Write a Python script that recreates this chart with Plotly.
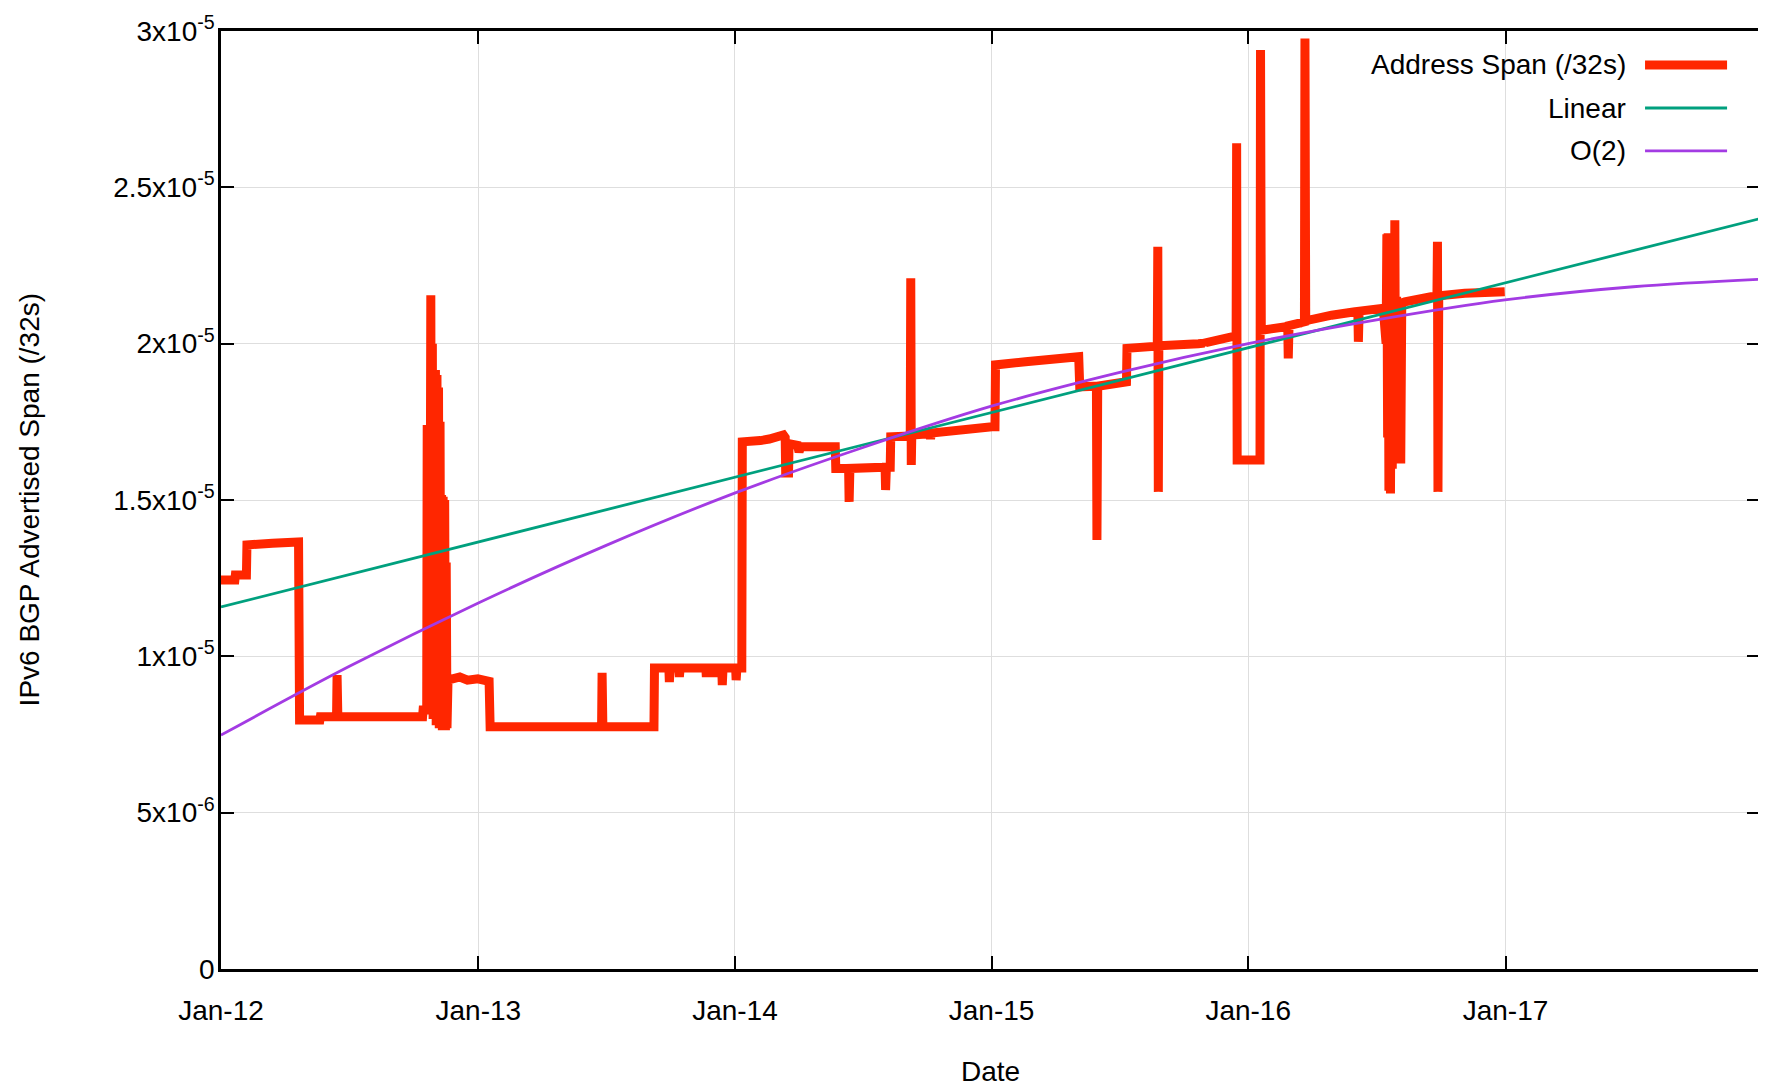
import datetime as dt
import plotly.graph_objects as go

# ---------------- data ----------------
# Dates as decimal years, values in units of 1e-6 (/32s)
span_years = [
    2012.000, 2012.054, 2012.056, 2012.099, 2012.101, 2012.200, 2012.302, 2012.306,
    2012.385, 2012.387, 2012.450, 2012.452, 2012.455, 2012.785, 2012.787, 2012.801,
    2012.803, 2012.806, 2012.810, 2012.813, 2012.817, 2012.820, 2012.823, 2012.826,
    2012.829, 2012.832, 2012.835, 2012.838, 2012.841, 2012.844, 2012.847, 2012.850,
    2012.853, 2012.856, 2012.859, 2012.862, 2012.865, 2012.868, 2012.871, 2012.874,
    2012.877, 2012.880, 2012.884, 2012.930, 2012.960, 2013.000, 2013.044, 2013.048,
    2013.482, 2013.484, 2013.487, 2013.686, 2013.688, 2013.744, 2013.746, 2013.749,
    2013.783, 2013.785, 2013.788, 2013.888, 2013.890, 2013.893, 2013.919, 2013.921,
    2013.924, 2013.950, 2013.952, 2013.955, 2014.004, 2014.006, 2014.009, 2014.028,
    2014.030, 2014.100, 2014.135, 2014.190, 2014.197, 2014.199, 2014.210, 2014.212,
    2014.245, 2014.251, 2014.257, 2014.392, 2014.394, 2014.444, 2014.446, 2014.449,
    2014.586, 2014.588, 2014.591, 2014.606, 2014.608, 2014.684, 2014.686, 2014.688,
    2014.690, 2014.761, 2014.763, 2014.766, 2015.002, 2015.014, 2015.016, 2015.133,
    2015.340, 2015.344, 2015.409, 2015.411, 2015.414, 2015.526, 2015.528, 2015.646,
    2015.648, 2015.650, 2015.652, 2015.806, 2015.830, 2015.832, 2015.835, 2015.936,
    2015.953, 2015.955, 2015.957, 2016.046, 2016.048, 2016.051, 2016.154, 2016.156,
    2016.159, 2016.195, 2016.219, 2016.221, 2016.224, 2016.234, 2016.325, 2016.416,
    2016.427, 2016.429, 2016.432, 2016.526, 2016.537, 2016.540, 2016.543, 2016.545,
    2016.548, 2016.551, 2016.554, 2016.558, 2016.561, 2016.565, 2016.568, 2016.571,
    2016.574, 2016.578, 2016.581, 2016.585, 2016.588, 2016.591, 2016.594, 2016.598,
    2016.610, 2016.712, 2016.735, 2016.737, 2016.739, 2016.742, 2016.843, 2016.999,
]
span_e6 = [
    12.44, 12.44, 12.60, 12.60, 13.56, 13.62, 13.66, 7.96,
    7.96, 8.07, 8.07, 9.40, 8.07, 8.07, 8.28, 8.28,
    17.40, 8.20, 17.00, 8.30, 21.55, 8.40, 20.00, 8.00,
    17.50, 8.00, 19.16, 7.80, 19.00, 7.80, 18.60, 7.70,
    17.50, 7.70, 15.16, 7.64, 15.10, 7.64, 15.00, 7.64,
    13.00, 7.70, 9.24, 9.34, 9.24, 9.28, 9.20, 7.75,
    7.75, 9.47, 7.75, 7.75, 9.63, 9.63, 9.18, 9.63,
    9.63, 9.34, 9.63, 9.63, 9.34, 9.63, 9.63, 9.34,
    9.63, 9.63, 9.08, 9.63, 9.63, 9.24, 9.63, 9.63,
    16.86, 16.90, 16.95, 17.08, 17.00, 15.86, 15.86, 16.80,
    16.75, 16.54, 16.70, 16.70, 16.01, 16.01, 14.94, 16.01,
    16.05, 15.32, 16.05, 16.05, 17.02, 17.05, 22.09, 16.12,
    17.08, 17.12, 16.95, 17.14, 17.34, 17.34, 19.32, 19.42,
    19.58, 18.62, 18.64, 13.72, 18.64, 18.78, 19.85, 19.92,
    23.10, 15.26, 19.93, 20.00, 20.02, 19.95, 20.03, 20.22,
    20.27, 26.41, 16.28, 16.28, 29.39, 20.43, 20.55, 19.53,
    20.58, 20.65, 20.70, 29.76, 20.72, 20.75, 20.91, 21.02,
    21.03, 20.06, 21.04, 21.13, 20.00, 23.50, 17.00, 23.53,
    15.30, 21.00, 15.21, 22.00, 16.00, 23.00, 17.50, 23.95,
    16.50, 21.50, 17.00, 21.30, 16.50, 21.20, 16.17, 21.30,
    21.34, 21.50, 21.52, 23.26, 15.26, 21.53, 21.61, 21.66,
]

linear_years = [2012.000, 2017.993]
linear_e6 = [11.58, 24.00]

quad_years = [2012.0, 2012.5, 2013.0, 2013.5, 2014.0, 2014.5, 2015.0,
              2015.5, 2016.0, 2016.5, 2017.0, 2017.5, 2017.993]
quad_e6 = [7.48, 9.68, 11.70, 13.55, 15.22, 16.68, 18.00,
           19.08, 20.00, 20.76, 21.40, 21.82, 22.06]

x_tick_dates = ["2012-01-01", "2013-01-01", "2014-01-01", "2015-01-01", "2016-01-01", "2017-01-01"]
x_tick_labels = ["Jan-12", "Jan-13", "Jan-14", "Jan-15", "Jan-16", "Jan-17"]
y_tick_vals = [0, 5e-6, 1e-5, 1.5e-5, 2e-5, 2.5e-5, 3e-5]
y_tick_labels = ["0", "5x10<sup>-6</sup>", "1x10<sup>-5</sup>", "1.5x10<sup>-5</sup>",
                 "2x10<sup>-5</sup>", "2.5x10<sup>-5</sup>", "3x10<sup>-5</sup>"]

series_names = ["Address Span (/32s)", "Linear", "O(2)"]
series_colors = ["#ff2600", "#00a07e", "#a33be3"]
series_widths = [9, 2.8, 2.8]


def to_date(y):
    return dt.datetime(2012, 1, 1) + dt.timedelta(days=(y - 2012.0) * 365.25)


def dates(ys):
    return [to_date(y) for y in ys]


def scale(vs):
    return [v * 1e-6 for v in vs]


FONT = "Liberation Sans, Arial, Helvetica, sans-serif"
FS = 28

fig = go.Figure()
for xs, ys, i in [(span_years, span_e6, 0), (linear_years, linear_e6, 1), (quad_years, quad_e6, 2)]:
    fig.add_trace(go.Scatter(
        x=dates(xs), y=scale(ys), mode="lines", name=series_names[i],
        line=dict(color=series_colors[i], width=series_widths[i],
                  shape="spline" if i == 2 else "linear", simplify=False),
        showlegend=False, hoverinfo="skip",
    ))

axis_common = dict(
    showline=True, linecolor="black", linewidth=2.5, mirror="allticks",
    ticks="inside", ticklen=13, tickwidth=2, tickcolor="black",
    showgrid=True, gridcolor="#dedede", gridwidth=1, zeroline=False,
    automargin=False,
    tickfont=dict(family=FONT, size=FS, color="black"),
)

fig.update_xaxes(
    type="date", range=[to_date(2012.0), to_date(2017.993)],
    tickmode="array", tickvals=x_tick_dates, ticktext=x_tick_labels,
    ticklabelstandoff=15, **axis_common,
)
fig.update_yaxes(
    range=[0, 3e-5], tickmode="array", tickvals=y_tick_vals, ticktext=y_tick_labels,
    ticklabelstandoff=-2, **axis_common,
)

# legend (gnuplot style: right-aligned text, sample on the right)
legend_y = [0.9638, 0.9179, 0.8721]
shapes = [dict(type="rect", xref="paper", yref="paper", x0=0.74, x1=1.0, y0=0.8497, y1=1.0,
               fillcolor="white", line=dict(width=0), layer="between")]
annotations = []
for i, name in enumerate(series_names):
    shapes.append(dict(type="line", xref="paper", yref="paper", x0=0.9253, x1=0.9786,
                       y0=legend_y[i], y1=legend_y[i],
                       line=dict(color=series_colors[i], width=series_widths[i])))
    annotations.append(dict(text=name, xref="paper", yref="paper", x=0.9142, y=legend_y[i],
                            xanchor="right", yanchor="middle", showarrow=False,
                            font=dict(family=FONT, size=FS, color="black")))

annotations.append(dict(text="Date", xref="paper", yref="paper", x=0.5, y=-0.1098,
                        xanchor="center", yanchor="middle", showarrow=False,
                        font=dict(family=FONT, size=FS, color="black")))
annotations.append(dict(text="IPv6 BGP Advertised Span (/32s)", xref="paper", yref="paper",
                        x=-0.1245, y=0.5, xanchor="center", yanchor="middle", textangle=-90,
                        showarrow=False, font=dict(family=FONT, size=FS, color="black")))

# the page body adds an 8 px offset; margins compensate so the plot area
# lands at x 221..1760, y 31..969 of the window
fig.update_layout(
    width=1766, height=1087,
    margin=dict(l=213, r=14, t=23, b=126, pad=0),
    paper_bgcolor="white", plot_bgcolor="white",
    shapes=shapes, annotations=annotations,
    showlegend=False,
)

fig.write_html("out.html")
